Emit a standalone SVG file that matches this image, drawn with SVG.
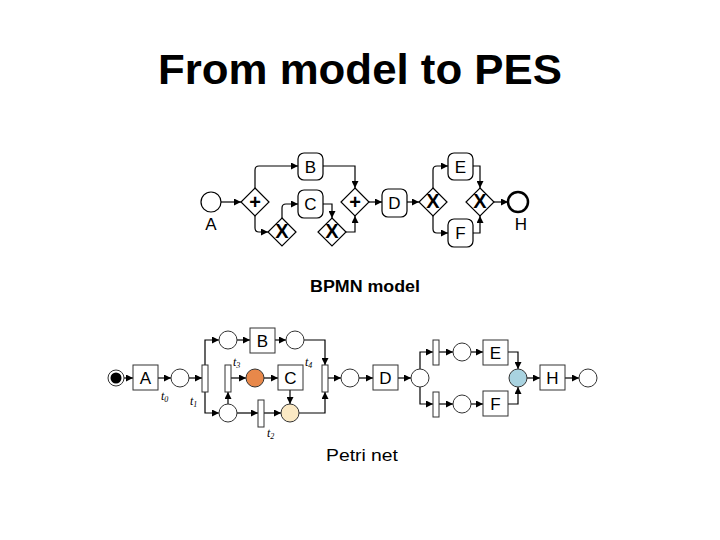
<svg xmlns="http://www.w3.org/2000/svg" width="720" height="540" viewBox="0 0 720 540">
<defs>
<marker id="ar" viewBox="0 0 10 10" refX="10" refY="5" markerWidth="7" markerHeight="7" markerUnits="userSpaceOnUse" orient="auto"><path d="M0,0L10,5L0,10z" fill="#000"/></marker>
<style>
.t{font-family:"Liberation Sans",Arial,sans-serif}
.e{fill:none;stroke:#000;stroke-width:1.2;marker-end:url(#ar)}
.task{fill:#fff;stroke:#000;stroke-width:1.2}
.pt{fill:#fff;stroke:#333;stroke-width:1}
.gw{fill:#fff;stroke:#000;stroke-width:1.2}
.lb{font-family:"Liberation Sans",Arial,sans-serif;font-size:17px;text-anchor:middle}
.ti{font-family:"Liberation Serif",serif;font-style:italic;font-size:12px}
.mk{font-family:"Liberation Sans",Arial,sans-serif;font-size:20px;font-weight:bold;text-anchor:middle}
</style>
</defs>
<rect width="720" height="540" fill="#fff"/>
<text class="t" x="360" y="84" font-size="43" font-weight="bold" text-anchor="middle" textLength="404" lengthAdjust="spacingAndGlyphs">From model to PES</text>
<text class="t" x="365" y="292" font-size="16" font-weight="bold" text-anchor="middle" textLength="110" lengthAdjust="spacingAndGlyphs">BPMN model</text>
<text class="t" x="362" y="461" font-size="16" text-anchor="middle" textLength="72" lengthAdjust="spacingAndGlyphs">Petri net</text>

<g id="bpmn-edges">
<path class="e" d="M221,202H241"/>
<path class="e" d="M255,188V170Q255,166 259,166H298"/>
<path class="e" d="M255,216V228Q255,232 259,232H268"/>
<path class="e" d="M282,218V208Q282,204 286,204H298"/>
<path class="e" d="M323,204H332V218"/>
<path class="e" d="M346,232H355V216"/>
<path class="e" d="M323,166H355V188"/>
<path class="e" d="M369,202H382"/>
<path class="e" d="M407,202H419"/>
<path class="e" d="M433,188V170Q433,166 437,166H448"/>
<path class="e" d="M433,216V229Q433,233 437,233H448"/>
<path class="e" d="M473,166H480V188"/>
<path class="e" d="M473,233H480V216"/>
<path class="e" d="M494,202H508"/>
</g>
<g id="bA"><circle cx="211" cy="202" r="10" class="gw"/><text class="lb" x="211" y="230">A</text></g>
<g id="bG1"><path class="gw" d="M255,188L269,202L255,216L241,202z"/><text class="mk" x="255" y="209">+</text></g>
<g id="bB"><rect x="298" y="153" width="25" height="27" rx="6" class="task"/><text class="lb" x="310.5" y="173">B</text></g>
<g id="bC"><rect x="298" y="190" width="25" height="28" rx="6" class="task"/><text class="lb" x="310.5" y="210">C</text></g>
<g id="bX1"><path class="gw" d="M282,218L296,232L282,246L268,232z"/><text class="mk" x="282" y="238" font-size="15">X</text></g>
<g id="bX2"><path class="gw" d="M332,218L346,232L332,246L318,232z"/><text class="mk" x="332" y="238" font-size="15">X</text></g>
<g id="bG2"><path class="gw" d="M355,188L369,202L355,216L341,202z"/><text class="mk" x="355" y="209">+</text></g>
<g id="bD"><rect x="382" y="189" width="25" height="28" rx="6" class="task"/><text class="lb" x="394.5" y="209">D</text></g>
<g id="bX3"><path class="gw" d="M433,188L447,202L433,216L419,202z"/><text class="mk" x="433" y="208" font-size="15">X</text></g>
<g id="bE"><rect x="448" y="153" width="25" height="27" rx="6" class="task"/><text class="lb" x="460.5" y="173">E</text></g>
<g id="bF"><rect x="448" y="219" width="25" height="28" rx="6" class="task"/><text class="lb" x="460.5" y="239">F</text></g>
<g id="bX4"><path class="gw" d="M480,188L494,202L480,216L466,202z"/><text class="mk" x="480" y="208" font-size="15">X</text></g>
<g id="bH"><circle cx="518" cy="202" r="10" fill="#fff" stroke="#000" stroke-width="2.5"/><text class="lb" x="521" y="230">H</text></g>

<g id="pn-edges">
<path class="e" d="M124,378H133"/>
<path class="e" d="M158,378H171"/>
<path class="e" d="M189,378H202"/>
<path class="e" d="M205,366V340H219"/>
<path class="e" d="M205,392V413H219"/>
<path class="e" d="M237,340H250"/>
<path class="e" d="M275,340H286"/>
<path class="e" d="M304,340H325V365"/>
<path class="e" d="M228,404V392"/>
<path class="e" d="M231,378H246"/>
<path class="e" d="M264,378H278"/>
<path class="e" d="M290,390V404"/>
<path class="e" d="M237,413H258"/>
<path class="e" d="M264,413H281"/>
<path class="e" d="M299,413H325V392"/>
<path class="e" d="M328,378H341"/>
<path class="e" d="M359,378H373"/>
<path class="e" d="M398,378H411"/>
<path class="e" d="M420,369V352H433"/>
<path class="e" d="M420,387V404H433"/>
<path class="e" d="M439,352H453"/>
<path class="e" d="M471,352H483"/>
<path class="e" d="M439,404H453"/>
<path class="e" d="M471,404H483"/>
<path class="e" d="M508,352H518V369"/>
<path class="e" d="M508,404H518V387"/>
<path class="e" d="M527,378H540"/>
<path class="e" d="M565,378H579"/>
</g>
<g id="pStart"><circle cx="116" cy="378" r="8" class="pt"/><circle cx="116" cy="378" r="5.5" fill="#000"/></g>
<g id="pA"><rect x="133" y="365" width="25" height="25" class="pt"/><text class="lb" x="145.5" y="384">A</text></g>
<g id="p1"><circle cx="180" cy="378" r="9" class="pt"/></g>
<g id="t1"><rect x="202" y="365" width="6" height="27" class="pt"/></g>
<g id="p2"><circle cx="228" cy="340" r="9" class="pt"/></g>
<g id="pB"><rect x="250" y="328" width="25" height="25" class="pt"/><text class="lb" x="262.5" y="347">B</text></g>
<g id="p3"><circle cx="295" cy="340" r="9" class="pt"/></g>
<g id="p4"><circle cx="228" cy="413" r="9" class="pt"/></g>
<g id="t3"><rect x="225" y="365" width="6" height="27" class="pt"/></g>
<g id="p5"><circle cx="255" cy="378" r="9" fill="#e8884a" stroke="#333"/></g>
<g id="pC"><rect x="278" y="365" width="25" height="25" class="pt"/><text class="lb" x="290.5" y="384">C</text></g>
<g id="t2"><rect x="258" y="400" width="6" height="27" class="pt"/></g>
<g id="p6"><circle cx="290" cy="413" r="9" fill="#fbe9c4" stroke="#333"/></g>
<g id="t4"><rect x="322" y="365" width="6" height="27" class="pt"/></g>
<g id="p7"><circle cx="350" cy="378" r="9" class="pt"/></g>
<g id="pD"><rect x="373" y="365" width="25" height="25" class="pt"/><text class="lb" x="385.5" y="384">D</text></g>
<g id="p8"><circle cx="420" cy="378" r="9" class="pt"/></g>
<g id="t5"><rect x="433" y="340" width="6" height="25" class="pt"/></g>
<g id="p9"><circle cx="462" cy="352" r="9" class="pt"/></g>
<g id="pE"><rect x="483" y="340" width="25" height="25" class="pt"/><text class="lb" x="495.5" y="359">E</text></g>
<g id="t6"><rect x="433" y="392" width="6" height="25" class="pt"/></g>
<g id="p10"><circle cx="462" cy="404" r="9" class="pt"/></g>
<g id="pF"><rect x="483" y="391" width="25" height="25" class="pt"/><text class="lb" x="495.5" y="410">F</text></g>
<g id="p11"><circle cx="518" cy="378" r="9" fill="#a9d3e0" stroke="#333"/></g>
<g id="pH"><rect x="540" y="365" width="25" height="25" class="pt"/><text class="lb" x="552.5" y="384">H</text></g>
<g id="pEnd"><circle cx="588" cy="378" r="9" class="pt"/></g>
<g id="tlabels">
<text class="ti" x="161" y="400">t<tspan font-size="8" dy="2">0</tspan></text>
<text class="ti" x="190" y="405">t<tspan font-size="8" dy="2">1</tspan></text>
<text class="ti" x="233" y="366">t<tspan font-size="8" dy="2">3</tspan></text>
<text class="ti" x="305" y="366">t<tspan font-size="8" dy="2">4</tspan></text>
<text class="ti" x="267" y="437">t<tspan font-size="8" dy="2">2</tspan></text>
</g>
</svg>
